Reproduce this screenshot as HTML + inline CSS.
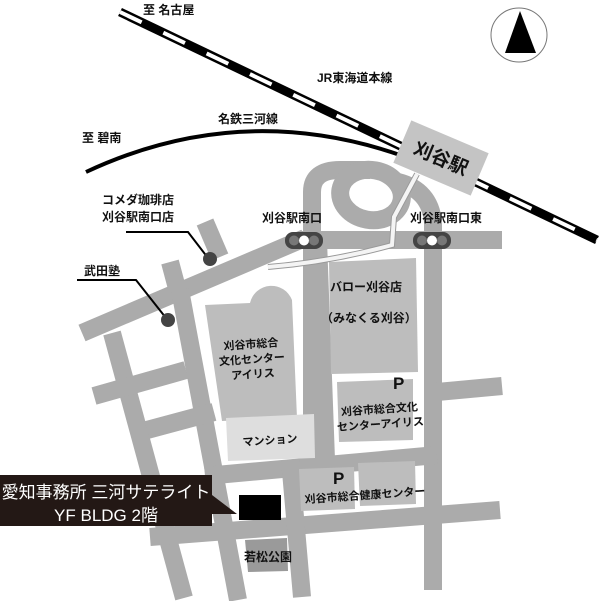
<!DOCTYPE html>
<html><head><meta charset="utf-8"><style>
html,body{margin:0;padding:0;background:#fff;width:600px;height:601px;overflow:hidden}
svg{display:block}
text{font-family:"Liberation Sans","Noto Sans CJK JP",sans-serif;font-weight:bold;fill:#111;font-size:12px}
</style></head><body>
<svg width="600" height="601" viewBox="0 0 600 601" xmlns="http://www.w3.org/2000/svg">
<!-- roads -->
<g stroke="#ababab" stroke-width="18" fill="none" stroke-linecap="butt">
<line x1="300" y1="240" x2="502" y2="240"/>
<path d="M312 460 L312 192 Q312 170 340 170 L370 170"/>
<ellipse cx="371" cy="195" rx="31" ry="25" transform="rotate(10 371 195)"/>
<path d="M433 590 L433 222 Q430 190 398 182"/>
<line x1="82" y1="333" x2="305" y2="238"/>
<line x1="205" y1="222" x2="220" y2="257"/>
<line x1="170" y1="262" x2="178" y2="292"/>
<line x1="112" y1="333" x2="184" y2="598"/>
<line x1="180" y1="290" x2="238" y2="600"/>
<line x1="94" y1="396" x2="186" y2="370"/>
<line x1="147" y1="430" x2="214" y2="412"/>
<line x1="205" y1="476" x2="437" y2="455"/>
<line x1="150" y1="537" x2="500" y2="510"/>
<line x1="437" y1="392" x2="502" y2="386"/>
<line x1="318" y1="240" x2="326" y2="460"/>
<line x1="290" y1="460" x2="302" y2="597"/>
</g>
<!-- blocks -->
<path d="M205 305 L250 303 A22 22 0 0 1 292 300 L297 418 L222 421 Z" fill="#bdbdbd"/>
<polygon points="226,418 314,414 315,458 228,461" fill="#dedede"/>
<polygon points="329,262 416,258 418,372 331,374" fill="#bdbdbd"/>
<polygon points="337,382 413,379 413,440 339,442" fill="#bdbdbd"/>
<polygon points="299,469 354,467 355,509 301,511" fill="#bdbdbd"/>
<polygon points="358,463 415,461 416,504 360,506" fill="#bdbdbd"/>
<polygon points="245,540 287,538 288,571 248,572" fill="#9a9a9a"/>
<rect x="239" y="495" width="42" height="25" fill="#000"/>
<!-- rail JR -->
<line x1="120" y1="12" x2="597" y2="240" stroke="#000" stroke-width="9"/>
<line x1="120" y1="12" x2="597" y2="240" stroke="#fff" stroke-width="4" stroke-dasharray="24 24"/>
<!-- meitetsu -->
<path d="M86 172 Q240 100 400 155" stroke="#000" stroke-width="4" fill="none"/>
<!-- station -->
<g transform="translate(441,158) rotate(23)">
<rect x="-42" y="-23" width="84" height="46" fill="#c4c4c4"/>
<text x="0" y="7" text-anchor="middle" style="font-size:19px">刈谷駅</text>
</g>
<!-- walkway -->
<path d="M417 174 L394 217 L392 245 Q330 262 268 267" stroke="#999" stroke-width="6" fill="none"/>
<path d="M417 174 L394 217 L392 245 Q330 262 268 267" stroke="#f4f4f4" stroke-width="4" fill="none"/>
<!-- north arrow -->
<ellipse cx="519" cy="35" rx="28" ry="27" fill="#fff" stroke="#777" stroke-width="1"/>
<polygon points="520,11 505,53 536,53" fill="#000"/>
<!-- traffic lights -->
<g><rect x="285" y="232" width="38" height="17" rx="8" fill="#444"/>
<circle cx="294" cy="240.5" r="5" fill="#777"/><circle cx="304" cy="240.5" r="5" fill="#fff"/><circle cx="314" cy="240.5" r="5" fill="#777"/></g>
<g><rect x="413" y="232" width="38" height="17" rx="8" fill="#444"/>
<circle cx="422" cy="240.5" r="5" fill="#777"/><circle cx="432" cy="240.5" r="5" fill="#fff"/><circle cx="442" cy="240.5" r="5" fill="#777"/></g>
<!-- markers -->
<polyline points="126,232 188,232 208,258" stroke="#000" stroke-width="2" fill="none"/>
<circle cx="210" cy="259" r="7" fill="#444"/>
<polyline points="77,280 136,280 166,318" stroke="#000" stroke-width="2" fill="none"/>
<circle cx="168" cy="320" r="7" fill="#444"/>
<!-- callout -->
<polygon points="0,475 212,475 212,495 237,514 212,514 212,526 0,526" fill="#231815"/>
<text x="106" y="498" text-anchor="middle" style="fill:#fff;font-weight:normal;font-size:17px">愛知事務所 三河サテライト</text>
<text x="106" y="521" text-anchor="middle" style="fill:#fff;font-weight:normal;font-size:17px">YF BLDG 2階</text>
<!-- labels -->
<text x="143" y="14">至 名古屋</text>
<text x="317" y="82">JR東海道本線</text>
<text x="218" y="123">名鉄三河線</text>
<text x="82" y="142">至 碧南</text>
<text x="102" y="204">コメダ珈琲店</text>
<text x="102" y="221">刈谷駅南口店</text>
<text x="262" y="222">刈谷駅南口</text>
<text x="410" y="222">刈谷駅南口東</text>
<text x="84" y="275">武田塾</text>
<text x="330" y="291">バロー刈谷店</text>
<text x="321" y="322">（みなくる刈谷）</text>
<g transform="rotate(-4 252 360)">
<text x="252" y="348" text-anchor="middle" style="font-size:11px">刈谷市総合</text>
<text x="252" y="363" text-anchor="middle" style="font-size:11px">文化センター</text>
<text x="252" y="378" text-anchor="middle" style="font-size:11px">アイリス</text>
</g>
<text x="393" y="389" style="font-size:17px">P</text>
<g transform="rotate(-4 380 418)">
<text x="380" y="413" text-anchor="middle" style="font-size:11px">刈谷市総合文化</text>
<text x="380" y="428" text-anchor="middle" style="font-size:11px">センターアイリス</text>
</g>
<text x="270" y="444" text-anchor="middle" transform="rotate(-4 270 440)" style="font-size:11px">マンション</text>
<text x="333" y="484" style="font-size:17px">P</text>
<text x="365" y="499" text-anchor="middle" transform="rotate(-4 365 495)" style="font-size:11px">刈谷市総合健康センター</text>
<text x="268" y="561" text-anchor="middle">若松公園</text>
</svg>
</body></html>
